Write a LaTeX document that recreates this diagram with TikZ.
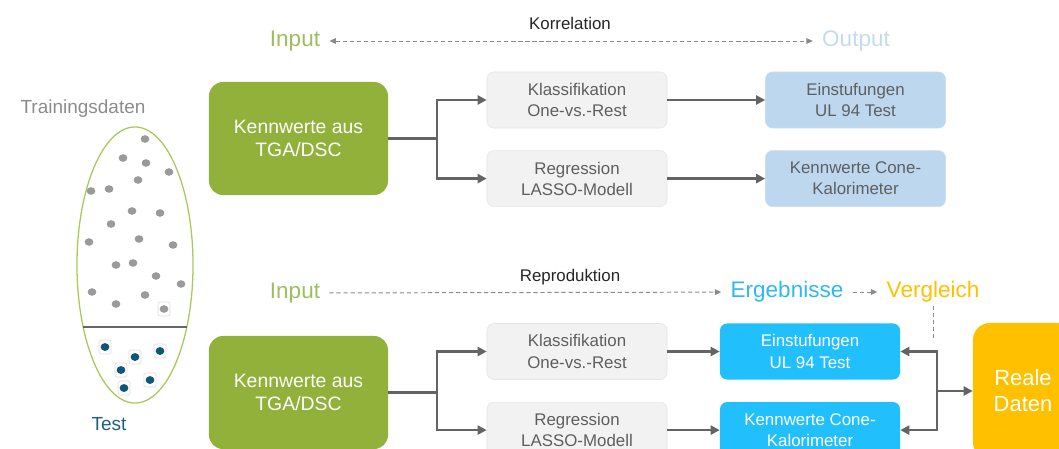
\documentclass[tikz,border=0pt]{standalone}
\usepackage{fontspec}
\setmainfont{Liberation Sans}
\usetikzlibrary{arrows.meta,positioning}
\definecolor{Olive}{HTML}{91B13B}
\definecolor{InGreen}{HTML}{9DBE5C}
\definecolor{GreyFill}{HTML}{F2F2F2}
\definecolor{GreyLine}{HTML}{E4E4E4}
\definecolor{GreyText}{HTML}{5F5F5F}
\definecolor{OutFill}{HTML}{BDD7EE}
\definecolor{OutLine}{HTML}{CADFF1}
\definecolor{OutText}{HTML}{C6DBEF}
\definecolor{Cyan}{HTML}{21C0FD}
\definecolor{CyanText}{HTML}{2DB9F2}
\definecolor{Gold}{HTML}{FFC000}
\definecolor{LinkGrey}{HTML}{646464}
\definecolor{DashGrey}{HTML}{8A8A8A}
\definecolor{DotGrey}{HTML}{9A9A9A}
\definecolor{DotBlue}{HTML}{0E5778}
\definecolor{TestBlue}{HTML}{1F5F80}
\definecolor{PoolLine}{HTML}{A9C85A}

\begin{document}
\begin{tikzpicture}[x=0.025cm,y=-0.025cm,
        box/.style={rounded corners=5pt,align=center,minimum width=4.5cm,minimum height=1.4cm,
          inner sep=2pt,font=\fontsize{12}{15}\selectfont},
        methodbox/.style={box,draw=GreyLine,fill=GreyFill,text=GreyText},
        outbox/.style={box,draw=OutLine,fill=OutFill,text=GreyText},
        resbox/.style={box,fill=Cyan,text=white},
        inbox/.style={fill=Olive,text=white,rounded corners=10pt,align=center,minimum width=4.475cm,
          minimum height=2.825cm,font=\fontsize{13.8}{16}\selectfont},
        realbox/.style={fill=Gold,text=white,rounded corners=12pt,align=center,minimum width=2.5cm,
          minimum height=3.4cm,font=\fontsize{15.6}{18.5}\selectfont},
        tag/.style={inner xsep=6.5pt,inner ysep=2pt,font=\fontsize{16}{18}\selectfont},
        note/.style={text=black!85,font=\fontsize{12}{14}\selectfont},
        link/.style={draw=LinkGrey,line width=1.6pt,>={Triangle[length=6.5pt,width=6.5pt]},->},
        hint/.style={draw=DashGrey,line width=0.7pt,dash pattern=on 3pt off 2pt,
          >={Triangle[length=4.5pt,width=4pt]}},
        frame/.style={draw=black!14,fill=white,rounded corners=1.5pt,line width=0.4pt}]
  \path[use as bounding box,clip] (0,0) rectangle (1059,448);

  % data pool
  \node[text=black!45,font=\fontsize{13.5}{16}\selectfont] (train) at (83,109) {Trainingsdaten};
  \node[text=TestBlue,font=\fontsize{13.5}{16}\selectfont] (test) at (109,424) {Test};
  \draw[PoolLine,line width=0.9pt] (135,265) ellipse [x radius=1.45cm,y radius=3.45cm];
  \draw[black!60,line width=1pt] (83,327) -- (187,327);
  \foreach \x/\y in {145/139,123/158,146/163,169/172,138/180,91/191,109/189,132/211,160/213,
      111/224,89/242,139/239,173/245,116/265,133/263,156/276,181/284,92/292,145/295,116/304}
    \fill[DotGrey] (\x,\y) ellipse [x radius=3.1pt,y radius=2.7pt];
  \draw[frame] ({164-6},{309-7}) rectangle ({164+6},{309+7});
  \fill[DotGrey] (164,309) ellipse [x radius=3.1pt,y radius=2.7pt];
  \foreach \x/\y in {105/347,135/357,160/351,121/370,150/380,124/388} {
    \draw[frame] ({\x-6},{\y-7}) rectangle ({\x+6},{\y+7});
    \fill[DotBlue] (\x,\y) ellipse [x radius=3.1pt,y radius=2.8pt];
  }

  % Korrelation
  \node[note] (korr) at (570,23) {Korrelation};
  \node[tag,text=InGreen] (in1) at (295,41) {Input};
  \node[tag,text=OutText] (out1) at (856,41) {Output};
  \draw[hint,<->] (in1) -- (out1);

  \node[inbox] (feat1) at (298.5,138.5) {Kennwerte aus\\TGA/DSC};
  \node[methodbox] (cls1) at (577,100) {Klassifikation\\One-vs.-Rest};
  \node[methodbox,below=0.55cm of cls1] (reg1) {Regression\\LASSO-Modell};
  \node[outbox] (ul1) at (855.5,100) {Einstufungen\\UL 94 Test};
  \node[outbox,below=0.55cm of ul1] (cone1) {Kennwerte Cone-\\Kalorimeter};

  \coordinate (fork1) at (437,138.5);
  \draw[link,-] (feat1) -- (fork1);
  \draw[link] (fork1) |- (cls1);
  \draw[link] (fork1) |- (reg1);
  \draw[link] (cls1) -- (ul1);
  \draw[link] (reg1) -- (cone1);

  % Reproduktion
  \node[note] (repro) at (570,277) {Reproduktion};
  \node[tag,text=InGreen] (in2) at (295,293) {Input};
  \node[tag,text=CyanText] (res) at (787,292) {Ergebnisse};
  \node[tag,text=Gold] (cmp) at (933,292) {Vergleich};
  \coordinate (cmpfoot) at (933,339);
  \draw[hint,->] (in2) -- (res);
  \draw[hint,->] (res) -- (cmp);
  \draw[hint] (cmp) -- (cmpfoot);

  \node[inbox] (feat2) at (298.5,392.5) {Kennwerte aus\\TGA/DSC};
  \node[methodbox] (cls2) at (577,351.5) {Klassifikation\\One-vs.-Rest};
  \node[methodbox,below=0.55cm of cls2] (reg2) {Regression\\LASSO-Modell};
  \node[resbox] (ul2) at (810,351.5) {Einstufungen\\UL 94 Test};
  \node[resbox,below=0.55cm of ul2] (cone2) {Kennwerte Cone-\\Kalorimeter};
  \node[realbox] (real) at (1023,391) {Reale\\Daten};

  \coordinate (fork2) at (437,392.5);
  \draw[link,-] (feat2) -- (fork2);
  \draw[link] (fork2) |- (cls2);
  \draw[link] (fork2) |- (reg2);
  \draw[link] (cls2) -- (ul2);
  \draw[link] (reg2) -- (cone2);

  \coordinate (merge) at (937,391);
  \draw[link] (merge) |- (ul2);
  \draw[link] (merge) |- (cone2);
  \draw[link] (merge) -- (real);
\end{tikzpicture}
\end{document}
